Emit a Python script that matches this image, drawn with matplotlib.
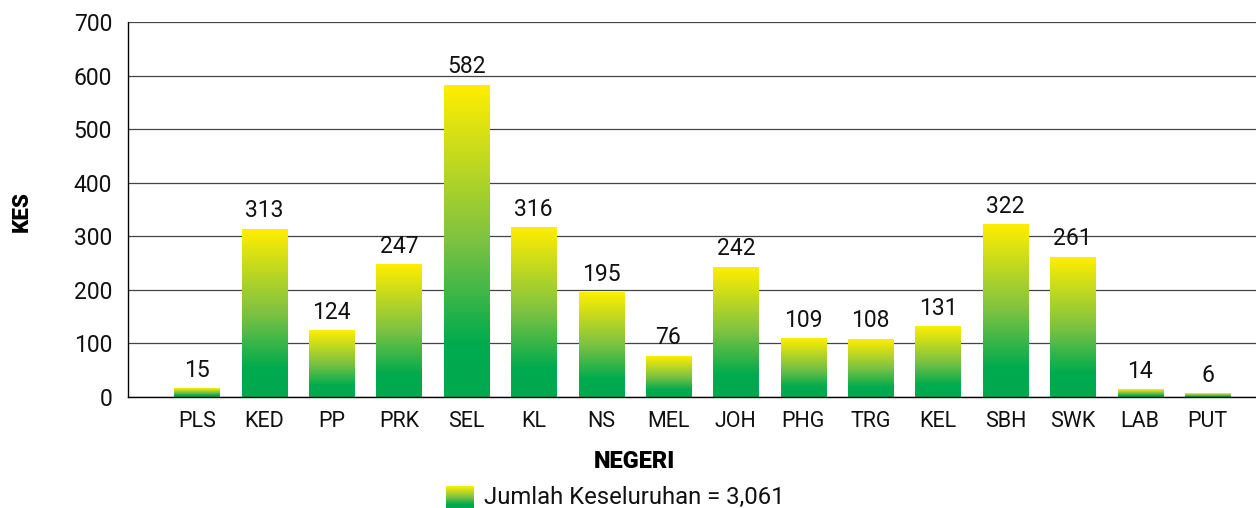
import numpy as np
import matplotlib
matplotlib.use('Agg')
import matplotlib.pyplot as plt
from matplotlib.colors import LinearSegmentedColormap

negeri = ['PLS', 'KED', 'PP', 'PRK', 'SEL', 'KL', 'NS', 'MEL',
          'JOH', 'PHG', 'TRG', 'KEL', 'SBH', 'SWK', 'LAB', 'PUT']
kes = [15, 313, 124, 247, 582, 316, 195, 76,
       242, 109, 108, 131, 322, 261, 14, 6]
jumlah = 3061

plt.rcParams['font.family'] = ['Roboto', 'DejaVu Sans']

# green at the base, yellow at the top
cmap = LinearSegmentedColormap.from_list(
    'hijau_kuning',
    [(0.0, '#00a84f'), (0.17, '#00ab4e'), (0.5, '#7dc242'), (1.0, '#ffee00')])
grad = np.linspace(0, 1, 256).reshape(-1, 1)

fig = plt.figure(figsize=(12.56, 5.08), dpi=100)
ax = fig.add_axes([0.102, 0.2185, 0.898, 0.7382])

x = np.arange(len(negeri))
width = 0.67
bars = ax.bar(x, kes, width, color='none', edgecolor='none', zorder=3)
for rect, v in zip(bars, kes):
    x0 = rect.get_x()
    ax.imshow(grad, extent=[x0, x0 + width, 0, v], origin='lower',
              aspect='auto', cmap=cmap, zorder=3, interpolation='bilinear')
    ax.text(rect.get_x() + width / 2, v + 13, str(v), ha='center',
            va='bottom', fontsize=16.5, color='#111111')

ax.set_xlim(-1.02, 15.72)
ax.set_ylim(0, 700)
ax.set_aspect('auto')
ax.set_yticks(range(0, 701, 100))
ax.set_xticks(x)
ax.set_xticklabels(negeri)
ax.tick_params(axis='both', length=0, colors='#111111')
ax.tick_params(axis='x', pad=10, labelsize=15.5)
ax.tick_params(axis='y', pad=11.5, labelsize=16.5)
ax.yaxis.grid(True, color='#444444', linewidth=0.9, zorder=0)
ax.set_axisbelow(True)
for s in ['top', 'right']:
    ax.spines[s].set_visible(False)
for s in ['left', 'bottom']:
    ax.spines[s].set_color('black')
    ax.spines[s].set_linewidth(1.0)
    ax.spines[s].set_zorder(4)

fig.text(0.017, 0.584, 'KES', rotation=90, ha='center', va='center',
         fontsize=16, fontweight=900)
fig.text(0.505, 0.092, 'NEGERI', ha='center', va='center',
         fontsize=17, fontweight=900)

# legend with a gradient swatch
sw = fig.add_axes([0.355, 0.0, 0.022, 0.043])
sw.imshow(grad, origin='lower', aspect='auto', cmap=cmap,
          interpolation='bilinear')
sw.axis('off')
fig.text(0.385, 0.021, 'Jumlah Keseluruhan = {:,}'.format(jumlah),
         ha='left', va='center', fontsize=17.2, color='#111111')

plt.savefig('out.png', dpi=100)
